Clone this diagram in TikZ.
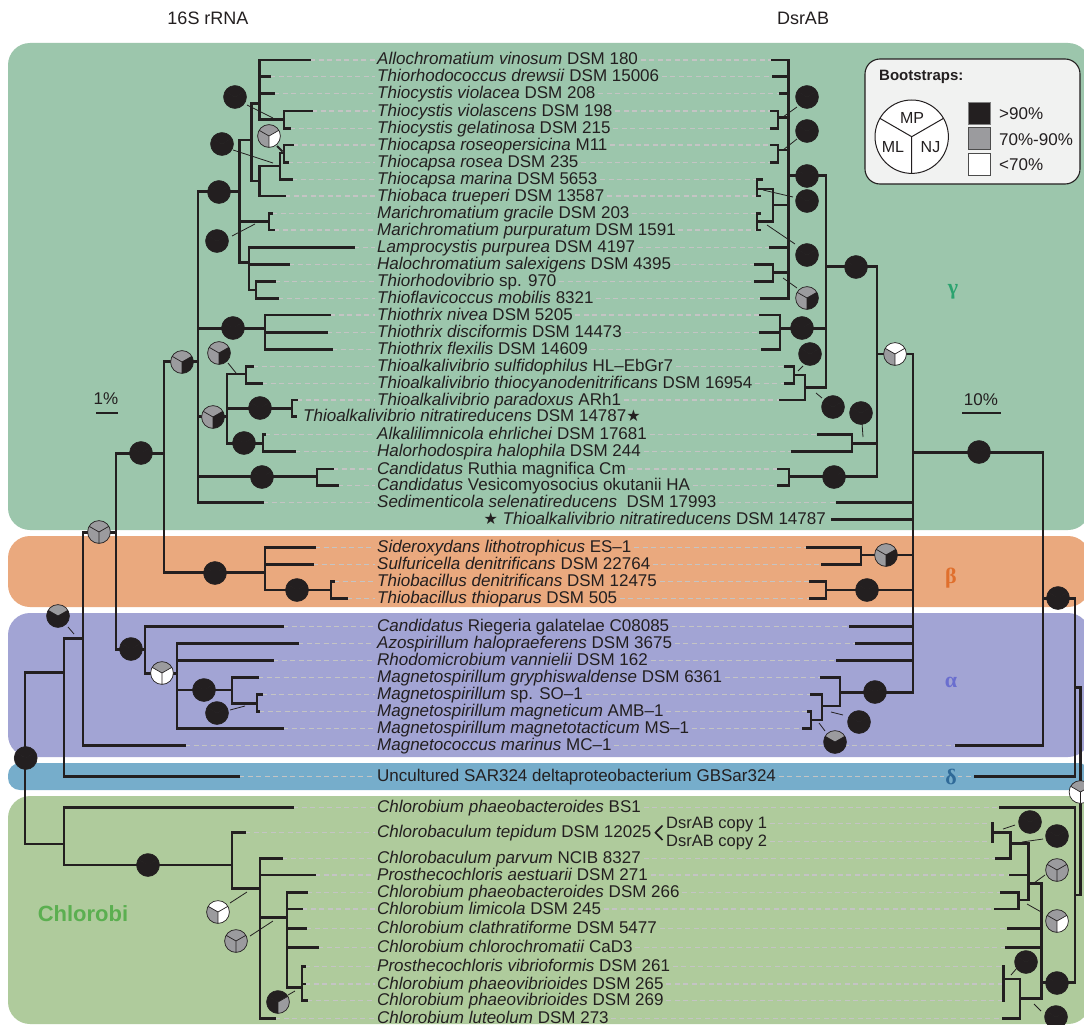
\documentclass[tikz,border=0pt]{standalone}
\usepackage{fontspec}
\setmainfont{Liberation Sans}
\newfontfamily\grkfont{Liberation Serif}
\newfontfamily\djvfont{DejaVu Sans}
\definecolor{gambg}{HTML}{9CC6AC}
\definecolor{betbg}{HTML}{EAA97E}
\definecolor{alpbg}{HTML}{A2A4D4}
\definecolor{sarbg}{HTML}{76ADCB}
\definecolor{chlbg}{HTML}{AFCB9C}
\definecolor{pk}{HTML}{231F20}
\definecolor{pg}{HTML}{9B9B9E}
\definecolor{dashc}{HTML}{C4C4C4}
\definecolor{gamtx}{HTML}{2BA36F}
\definecolor{bettx}{HTML}{E06F2C}
\definecolor{alptx}{HTML}{6A6ECF}
\definecolor{deltx}{HTML}{2F6A98}
\definecolor{chltx}{HTML}{5BAF50}
\definecolor{legbg}{HTML}{F1F2F1}
\newcommand\spn[1]{\textit{#1}}
\tikzset{
 tree/.style={line width=2.6pt, draw=pk, line cap=rect},
 dashln/.style={draw=dashc, line width=1.1pt, dash pattern=on 5pt off 3.5pt},
 lab/.style={anchor=west, inner xsep=2.5pt, inner ysep=0pt, text height=11pt, text depth=1pt, font=\fontsize{17}{17}\selectfont, text=pk},
 leader/.style={draw=pk, line width=0.8pt},
 pieln/.style={draw=pk, line width=0.7pt},
 txt/.style={font=\fontsize{17}{17}\selectfont, text=pk, inner sep=0pt},
 greek/.style={font=\grkfont\bfseries\fontsize{22}{22}\selectfont, inner sep=1pt}
}
\newcommand\taxrow[5]{%
  \node[lab] (#1) at (374.5,#2) {#5};
  \coordinate (#1-l) at (#3,#2);
  \coordinate (#1-r) at (#4,#2);
  \draw[dashln] (#1-l) -- (#1.west);
  \draw[dashln] (#1.east) -- (#1-r);
}
\newcommand\bpie[5]{%
 \begin{scope}[shift={(#1,#2)}]
 \fill[#3] (0,0) -- (30:11.4pt) arc[start angle=30,end angle=150,radius=11.4pt] -- cycle;
 \fill[#4] (0,0) -- (150:11.4pt) arc[start angle=150,end angle=270,radius=11.4pt] -- cycle;
 \fill[#5] (0,0) -- (270:11.4pt) arc[start angle=270,end angle=390,radius=11.4pt] -- cycle;
 \draw[pieln] (0,0) -- (30:11.4pt) (0,0) -- (150:11.4pt) (0,0) -- (270:11.4pt) (0,0) circle[radius=11.4pt];
 \end{scope}}
\begin{document}
\begin{tikzpicture}[x=1pt,y=-1pt]
\clip (0,0) rectangle (1084,1025);
\fill[white] (0,0) rectangle (1084,1025);
% clade backgrounds
\fill[gambg, rounded corners=22pt] (8,43) rectangle (1090,530);
\fill[betbg, rounded corners=22pt] (8,536) rectangle (1090,607);
\fill[alpbg, rounded corners=22pt] (8,613) rectangle (1090,757);
\fill[sarbg, rounded corners=12pt] (8,763) rectangle (1090,790);
\fill[chlbg, rounded corners=22pt] (8,796) rectangle (1090,1024);

% titles
\node[txt, font=\fontsize{18}{18}\selectfont] (t16) at (208,18) {16S rRNA};
\node[txt, font=\fontsize{18}{18}\selectfont] (tds) at (803,18) {DsrAB};

% taxa rows
\taxrow{r1}{60}{310}{772}{\spn{Allochromatium vinosum} DSM 180}
\taxrow{r2}{76.7}{270}{773}{\spn{Thiorhodococcus drewsii} DSM 15006}
\taxrow{r3}{93.3}{274}{780}{\spn{Thiocystis violacea} DSM 208}
\taxrow{r4}{111}{312}{771}{\spn{Thiocystis violascens} DSM 198}
\taxrow{r5}{128.3}{290}{771}{\spn{Thiocystis gelatinosa} DSM 215}
\taxrow{r6}{145}{293}{771}{\spn{Thiocapsa roseopersicina} M11}
\taxrow{r7}{162.3}{288}{771}{\spn{Thiocapsa rosea} DSM 235}
\taxrow{r8}{179.3}{292}{762}{\spn{Thiocapsa marina} DSM 5653}
\taxrow{r9}{196}{285}{760}{\spn{Thiobaca trueperi} DSM 13587}
\taxrow{r10}{213.3}{272}{760}{\spn{Marichromatium gracile} DSM 203}
\taxrow{r11}{230}{274}{760}{\spn{Marichromatium purpuratum} DSM 1591}
\taxrow{r12}{247.3}{354}{770}{\spn{Lamprocystis purpurea} DSM 4197}
\taxrow{r13}{264.3}{289}{755}{\spn{Halochromatium salexigens} DSM 4395}
\taxrow{r14}{281.3}{275}{755}{\spn{Thiorhodovibrio} sp. 970}
\taxrow{r15}{298.3}{278}{761}{\spn{Thioflavicoccus mobilis} 8321}
\taxrow{r16}{315}{330}{760}{\spn{Thiothrix nivea} DSM 5205}
\taxrow{r17}{332.3}{327}{760}{\spn{Thiothrix disciformis} DSM 14473}
\taxrow{r18}{349.3}{332}{762}{\spn{Thiothrix flexilis} DSM 14609}
\taxrow{r19}{366.7}{253}{785}{\spn{Thioalkalivibrio sulfidophilus} HL--EbGr7}
\taxrow{r20}{383.3}{262}{785}{\spn{Thioalkalivibrio thiocyanodenitrificans} DSM 16954}
\taxrow{r21}{400}{297}{780}{\spn{Thioalkalivibrio paradoxus} ARh1}
\node[lab] (r22) at (300.5,416.7) {\spn{Thioalkalivibrio nitratireducens} DSM 14787{\djvfont\fontsize{16}{16}\selectfont ★}};
\taxrow{r23}{434.3}{265}{818}{\spn{Alkalilimnicola ehrlichei} DSM 17681}
\taxrow{r24}{451.7}{295}{792}{\spn{Halorhodospira halophila} DSM 244}
\taxrow{r25}{469}{333}{778}{\spn{Candidatus} Ruthia magnifica Cm}
\taxrow{r26}{485.7}{338}{778}{\spn{Candidatus} Vesicomyosocius okutanii HA}
\taxrow{r27}{502.3}{263}{837}{\spn{Sedimenticola selenatireducens}\ \ DSM 17993}
\node[lab, anchor=east] (r28) at (828.5,519.3) {{\djvfont\fontsize{16}{16}\selectfont ★} \spn{Thioalkalivibrio nitratireducens} DSM 14787};
\taxrow{r29}{547.3}{315}{807}{\spn{Sideroxydans lithotrophicus} ES--1}
\taxrow{r30}{564.3}{313}{822}{\spn{Sulfuricella denitrificans} DSM 22764}
\taxrow{r31}{581.7}{334}{810}{\spn{Thiobacillus denitrificans} DSM 12475}
\taxrow{r32}{598.3}{347}{810}{\spn{Thiobacillus thioparus} DSM 505}
\taxrow{r33}{626.7}{283}{850}{\spn{Candidatus} Riegeria galatelae C08085}
\taxrow{r34}{643.3}{298}{856}{\spn{Azospirillum halopraeferens} DSM 3675}
\taxrow{r35}{660.7}{273}{837}{\spn{Rhodomicrobium vannielii} DSM 162}
\taxrow{r36}{677.7}{258}{821}{\spn{Magnetospirillum gryphiswaldense} DSM 6361}
\taxrow{r37}{694.7}{262}{811}{\spn{Magnetospirillum} sp. SO--1}
\taxrow{r38}{711.7}{259}{808}{\spn{Magnetospirillum magneticum} AMB--1}
\taxrow{r39}{728.7}{283}{803}{\spn{Magnetospirillum magnetotacticum} MS--1}
\taxrow{r40}{745.7}{185}{956}{\spn{Magnetococcus marinus} MC--1}
\taxrow{r41}{776.7}{239}{975}{Uncultured SAR324 deltaproteobacterium GBSar324}
\taxrow{r42}{807.5}{293}{1000}{\spn{Chlorobium phaeobacteroides} BS1}
\node[lab] (r43) at (374.5,832.7) {\spn{Chlorobaculum tepidum} DSM 12025};
\coordinate (r43-l) at (245,832.7);
\draw[dashln] (r43-l) -- (r43.west);
\node[lab, font=\fontsize{16.5}{16.5}\selectfont] (cp1) at (663.5,823.3) {DsrAB copy 1};
\node[lab, font=\fontsize{16.5}{16.5}\selectfont] (cp2) at (663.5,841.2) {DsrAB copy 2};
\coordinate (cp1-r) at (992.7,823.3);
\coordinate (cp2-r) at (992.7,841.2);
\draw[dashln] (cp1.east) -- (cp1-r);
\draw[dashln] (cp2.east) -- (cp2-r);
\draw[pk, line width=1.7pt] (662.5,825.5) -- (655.5,832.7) -- (662.5,840);
\taxrow{r44}{858.3}{282}{996.7}{\spn{Chlorobaculum parvum} NCIB 8327}
\taxrow{r45}{875}{315}{1010}{\spn{Prosthecochloris aestuarii} DSM 271}
\taxrow{r46}{892.3}{307}{1001.7}{\spn{Chlorobium phaeobacteroides} DSM 266}
\taxrow{r47}{909}{302}{995}{\spn{Chlorobium limicola} DSM 245}
\taxrow{r48}{928.7}{306}{1008}{\spn{Chlorobium clathratiforme} DSM 5477}
\taxrow{r49}{947.5}{318}{1006}{\spn{Chlorobium chlorochromatii} CaD3}
\taxrow{r50}{966.7}{305}{1003.3}{\spn{Prosthecochloris vibrioformis} DSM 261}
\taxrow{r51}{984}{305}{1003.3}{\spn{Chlorobium phaeovibrioides} DSM 265}
\taxrow{r52}{1000.7}{307}{1003.3}{\spn{Chlorobium phaeovibrioides} DSM 269}
\taxrow{r53}{1018.3}{275}{1003}{\spn{Chlorobium luteolum} DSM 273}

% group letters
\node[greek, text=gamtx] (gg) at (953,292) {γ};
\node[greek, text=bettx] (gb) at (951,578) {β};
\node[greek, text=alptx] (ga) at (951,682) {α};
\node[greek, text=deltx, fill=sarbg] (gd) at (951,777) {δ};
\node[font=\bfseries\fontsize{22}{22}\selectfont, text=chltx, inner sep=0pt] (chl) at (83,914) {Chlorobi};

% scale bars
\node[txt] (s1) at (106,399) {1\%};
\draw[pk, line width=2pt] (96,413.3) -- (117.7,413.3);
\node[txt] (s10) at (981,399.5) {10\%};
\draw[pk, line width=2pt] (962,413.3) -- (1000.5,413.3);

% ---------- 16S tree ----------
\draw[tree]
(259.3,60) -- (259.3,119.3) (259.3,60) -- (310,60) (259.3,76.7) -- (270,76.7) (259.3,93.3) -- (274,93.3)
(259.3,119.3) -- (284,119.3) (284,111) -- (284,128.3) (284,111) -- (312,111) (284,128.3) -- (290,128.3)
(251.7,103.3) -- (259.3,103.3)
(259.3,166) -- (259.3,196) (259.3,166) -- (280,166) (280,153) -- (280,179.3) (280,153) -- (284,153)
(284,145) -- (284,162.3) (284,145) -- (293,145) (284,162.3) -- (288,162.3) (280,179.3) -- (292,179.3)
(259.3,196) -- (285,196) (251.7,181) -- (259.3,181)
(251.7,103.3) -- (251.7,181) (239.3,140) -- (251.7,140)
(239.3,140) -- (239.3,262.7) (198,191.7) -- (239.3,191.7)
(239.3,221.7) -- (269,221.7) (269,213.3) -- (269,230) (269,213.3) -- (272,213.3) (269,230) -- (274,230)
(239.3,262.7) -- (249,262.7) (249,247.3) -- (249,290) (249,247.3) -- (354,247.3) (249,264.3) -- (289,264.3)
(249,290) -- (256,290) (256,281.3) -- (256,298.3) (256,281.3) -- (275,281.3) (256,298.3) -- (278,298.3)
(198,191.7) -- (198,502.3)
(198,328.3) -- (265,328.3) (265,315) -- (265,349.3) (265,315) -- (330,315) (265,332.3) -- (327,332.3) (265,349.3) -- (332,349.3)
(198,416.7) -- (227,416.7) (227,374) -- (227,443.3)
(227,374) -- (246,374) (246,366.7) -- (246,383.3) (246,366.7) -- (253,366.7) (246,383.3) -- (262,383.3)
(227,408.3) -- (292,408.3) (292,400) -- (292,416.7) (292,400) -- (297,400) (292,416.7) -- (296,416.7)
(227,443.3) -- (263,443.3) (263,434.3) -- (263,451.7) (263,434.3) -- (265,434.3) (263,451.7) -- (295,451.7)
(198,476.7) -- (317,476.7) (317,469) -- (317,485.7) (317,469) -- (333,469) (317,485.7) -- (338,485.7)
(198,502.3) -- (263,502.3) (164,361.7) -- (198,361.7)
(164,361.7) -- (164,572.7) (164,572.7) -- (265,572.7)
(265,547.3) -- (265,590) (265,547.3) -- (315,547.3) (265,564.3) -- (313,564.3)
(265,590) -- (331,590) (331,581.7) -- (331,598.3) (331,581.7) -- (334,581.7) (331,598.3) -- (347,598.3)
(116,453.3) -- (164,453.3)
(116,453.3) -- (116,649.3) (116,649.3) -- (145,649.3)
(145,626.7) -- (145,673.3) (145,626.7) -- (283,626.7) (145,673.3) -- (177,673.3)
(177,643.3) -- (177,728.7) (177,643.3) -- (298,643.3) (177,660.7) -- (273,660.7)
(177,690) -- (232,690) (232,677.7) -- (232,703.3) (232,677.7) -- (258,677.7)
(232,703.3) -- (257,703.3) (257,694.7) -- (257,711.7) (257,694.7) -- (262,694.7) (257,711.7) -- (259,711.7)
(177,728.7) -- (283,728.7)
(83,532.7) -- (116,532.7)
(83,532.7) -- (83,745.7) (83,745.7) -- (185,745.7) (64,638.3) -- (83,638.3)
(64,638.3) -- (64,776.7) (64,776.7) -- (239,776.7) (25,672.7) -- (64,672.7)
(25,672.7) -- (25,844) (25,844) -- (64,844)
(64,807.5) -- (64,865) (64,807.5) -- (293,807.5) (64,865) -- (232,865)
(232,832.7) -- (232,888.3) (232,832.7) -- (245,832.7) (232,888.3) -- (260,888.3)
(260,858.3) -- (260,1018.3) (260,858.3) -- (282,858.3) (260,875) -- (315,875) (260,917.3) -- (287,917.3) (260,1018.3) -- (275,1018.3)
(287,892.3) -- (287,987.3) (287,892.3) -- (307,892.3) (287,909) -- (302,909) (287,928.7) -- (306,928.7) (287,947.5) -- (318,947.5)
(287,987.3) -- (302,987.3)
(302,966.7) -- (302,1000.7) (302,966.7) -- (305,966.7) (302,984) -- (305,984) (302,1000.7) -- (307,1000.7);

% ---------- DsrAB tree ----------
\draw[tree]
(788.3,60) -- (788.3,298.3) (772,60) -- (788.3,60) (773,76.7) -- (788.3,76.7) (780,93.3) -- (788.3,93.3)
(778,111) -- (778,128.3) (771,111) -- (778,111) (771,128.3) -- (778,128.3) (778,117.3) -- (788.3,117.3)
(778,145) -- (778,162.3) (771,145) -- (778,145) (771,162.3) -- (778,162.3) (778,150) -- (788.3,150)
(773,189) -- (773,221.7) (773,205) -- (788.3,205)
(757,179.3) -- (757,196) (757,179.3) -- (762,179.3) (757,196) -- (760,196) (757,189) -- (773,189)
(757,213.3) -- (757,230) (757,213.3) -- (760,213.3) (757,230) -- (760,230) (757,221.7) -- (773,221.7)
(770,247.3) -- (788.3,247.3)
(773,264.3) -- (773,281.3) (755,264.3) -- (773,264.3) (755,281.3) -- (773,281.3) (773,272.7) -- (788.3,272.7)
(761,298.3) -- (788.3,298.3)
(788.3,175.7) -- (826,175.7)
(826,175.7) -- (826,387.3)
(780,315) -- (780,349.3) (760,315) -- (780,315) (760,332.3) -- (780,332.3) (762,349.3) -- (780,349.3) (780,328.3) -- (826,328.3)
(794,366.7) -- (794,383.3) (785,366.7) -- (794,366.7) (785,383.3) -- (794,383.3) (794,375) -- (805,375)
(805,375) -- (805,400) (780,400) -- (805,400) (805,387.3) -- (826,387.3)
(826,266.7) -- (877,266.7)
(877,266.7) -- (877,476.7)
(852,434.3) -- (852,451.7) (818,434.3) -- (852,434.3) (792,451.7) -- (852,451.7) (852,443.3) -- (877,443.3)
(789,469) -- (789,485.7) (778,469) -- (789,469) (778,485.7) -- (789,485.7) (789,476.7) -- (877,476.7)
(877,354) -- (913,354)
(913,354) -- (913,692.3)
(837,502.3) -- (913,502.3) (832,519.3) -- (913,519.3)
(861,547.3) -- (861,564.3) (807,547.3) -- (861,547.3) (822,564.3) -- (861,564.3) (861,555) -- (913,555)
(826,581.7) -- (826,598.3) (810,581.7) -- (826,581.7) (810,598.3) -- (826,598.3) (826,590) -- (913,590)
(850,626.7) -- (913,626.7) (856,643.3) -- (913,643.3) (837,660.7) -- (913,660.7)
(840,677.7) -- (840,706) (821,677.7) -- (840,677.7) (822,706) -- (840,706)
(822,694.7) -- (822,720) (811,694.7) -- (822,694.7) (811,720) -- (822,720)
(811,711.7) -- (811,728.7) (808,711.7) -- (811,711.7) (803,728.7) -- (811,728.7)
(840,692.3) -- (913,692.3)
(913,452.3) -- (1043,452.3)
(1043,452.3) -- (1043,745.7) (956,745.7) -- (1043,745.7) (1043,598.3) -- (1075,598.3)
(1075,598.3) -- (1075,776.7) (975,776.7) -- (1075,776.7) (1075,687.3) -- (1080.5,687.3)
(1080.5,687.3) -- (1080.5,895) (1075,895) -- (1080.5,895)
(1075,807.5) -- (1075,982.7) (1000,807.5) -- (1075,807.5) (1041.7,982.7) -- (1075,982.7)
(1041.7,883.3) -- (1041.7,998.3) (1008,928.7) -- (1041.7,928.7) (1006,947.5) -- (1041.7,947.5)
(1028.3,883.3) -- (1041.7,883.3)
(1028.3,843.3) -- (1028.3,900) (1010.7,843.3) -- (1028.3,843.3)
(1010.7,832.7) -- (1010.7,858.3) (992.7,832.7) -- (1010.7,832.7) (992.7,823.3) -- (992.7,841.2) (996.7,858.3) -- (1010.7,858.3)
(1010,875) -- (1028.3,875)
(1018.3,900) -- (1028.3,900) (1018.3,892.3) -- (1018.3,909) (1001.7,892.3) -- (1018.3,892.3) (995,909) -- (1018.3,909)
(1020,998.3) -- (1041.7,998.3) (1020,979) -- (1020,1018.3) (1003.3,979) -- (1020,979)
(1003.3,966.7) -- (1003.3,1000.7) (1003,1018.3) -- (1020,1018.3);

% leader lines
\draw[leader] (247,105) -- (273,118) (233,150) -- (273,163) (232,236) -- (255,224) (228,363) -- (236,373)
 (230,710) -- (245,706) (68,627) -- (74,634) (230,903) -- (247,892) (250,936) -- (273,921) (288,995) -- (295,991);
\draw[pk, line width=2pt] (277,146) -- (282.5,151.5);
\draw[leader] (797,107) -- (783,117) (797,139) -- (783,150) (793,197) -- (763,190) (795,244) -- (767,225)
 (783,278) -- (797,288) (803,366) -- (798,371) (822,398) -- (816,393) (862,423) -- (863,437)
 (843,715) -- (831,712) (825,731) -- (819,723) (1015,825) -- (1003,829) (1043,839) -- (1022,842)
 (1045,875) -- (1034,883) (1043,913) -- (1027,904) (1017,968) -- (1011,975) (1041,1011) -- (1034,1004);

% bootstrap pies, 16S
\bpie{235}{97}{pk}{pk}{pk}
\bpie{269}{136}{pg}{pg}{white}
\bpie{222}{144}{pk}{pk}{pk}
\bpie{219}{192}{pk}{pk}{pk}
\bpie{217}{241}{pk}{pk}{pk}
\bpie{233}{328}{pk}{pk}{pk}
\bpie{182}{362}{pg}{pg}{pk}
\bpie{219}{353}{pg}{pg}{pk}
\bpie{213}{417}{pg}{pg}{pk}
\bpie{260}{408}{pk}{pk}{pk}
\bpie{244}{443}{pk}{pk}{pk}
\bpie{262}{477}{pk}{pk}{pk}
\bpie{141}{453}{pk}{pk}{pk}
\bpie{99}{532}{pg}{pg}{pg}
\bpie{215}{573}{pk}{pk}{pk}
\bpie{297}{590}{pk}{pk}{pk}
\bpie{131}{649}{pk}{pk}{pk}
\bpie{162}{673}{pg}{white}{white}
\bpie{204}{690}{pk}{pk}{pk}
\bpie{217}{713}{pk}{pk}{pk}
\bpie{58}{616}{pg}{pk}{pk}
\bpie{25.7}{758}{pk}{pk}{pk}
\bpie{148}{865}{pk}{pk}{pk}
\bpie{218}{912}{white}{pg}{white}
\bpie{236}{941}{pg}{pg}{pg}
\bpie{278}{1002}{pk}{pk}{pg}
% bootstrap pies, DsrAB
\bpie{807}{97}{pk}{pk}{pk}
\bpie{807}{131}{pk}{pk}{pk}
\bpie{807}{176}{pk}{pk}{pk}
\bpie{807}{201}{pk}{pk}{pk}
\bpie{807}{255}{pk}{pk}{pk}
\bpie{807}{298}{pg}{pg}{pk}
\bpie{802}{328}{pk}{pk}{pk}
\bpie{810}{354}{pk}{pk}{pk}
\bpie{833}{407}{pk}{pk}{pk}
\bpie{856}{267}{pk}{pk}{pk}
\bpie{861}{413}{pk}{pk}{pk}
\bpie{834}{477}{pk}{pk}{pk}
\bpie{895}{354}{white}{pg}{white}
\bpie{886}{555}{pg}{pg}{pk}
\bpie{867}{590}{pk}{pk}{pk}
\bpie{875}{692}{pk}{pk}{pk}
\bpie{859}{722}{pk}{pk}{pk}
\bpie{835}{742}{pg}{pk}{pk}
\bpie{979}{452}{pk}{pk}{pk}
\bpie{1058}{598}{pk}{pk}{pk}
\bpie{1080.5}{792}{pg}{white}{white}
\bpie{1030}{822}{pk}{pk}{pk}
\bpie{1057}{836}{pk}{pk}{pk}
\bpie{1057}{870}{pg}{pg}{pg}
\bpie{1057}{921}{pg}{pg}{white}
\bpie{1026}{962}{pk}{pk}{pk}
\bpie{1057}{983}{pk}{pk}{pk}
\bpie{1056}{1017}{pk}{pk}{pk}

% legend
\draw[fill=legbg, draw=pk, line width=1.1pt, rounded corners=15pt] (865,59) rectangle (1080,184);
\node[anchor=west, font=\bfseries\fontsize{15}{15}\selectfont, text=pk, inner sep=0pt] (lt) at (879,77) {Bootstraps:};
\begin{scope}[shift={(911.7,136.7)}]
\draw[fill=white, draw=pk, line width=1pt] (0,0) circle[radius=36.7pt];
\draw[pk, line width=1pt] (0,0) -- (30:36.7pt) (0,0) -- (150:36.7pt) (0,0) -- (270:36.7pt);
\end{scope}
\node[txt, font=\fontsize{16}{16}\selectfont] (lmp) at (912,118) {MP};
\node[txt, font=\fontsize{16}{16}\selectfont] (lml) at (893,147) {ML};
\node[txt, font=\fontsize{16}{16}\selectfont] (lnj) at (930.5,147) {NJ};
\draw[fill=pk, draw=gray, line width=0.8pt] (968.3,102.7) rectangle (990,124.3);
\draw[fill=pg, draw=gray!60!black, line width=0.8pt] (968.3,127.7) rectangle (990,149.3);
\draw[fill=white, draw=gray!60!black, line width=0.8pt] (968.3,153.3) rectangle (990,175);
\node[txt, anchor=west] (lk) at (999,114) {>90\%};
\node[txt, anchor=west] (lg) at (999,139.5) {70\%-90\%};
\node[txt, anchor=west] (lw) at (999,164.5) {<70\%};
\end{tikzpicture}
\end{document}
